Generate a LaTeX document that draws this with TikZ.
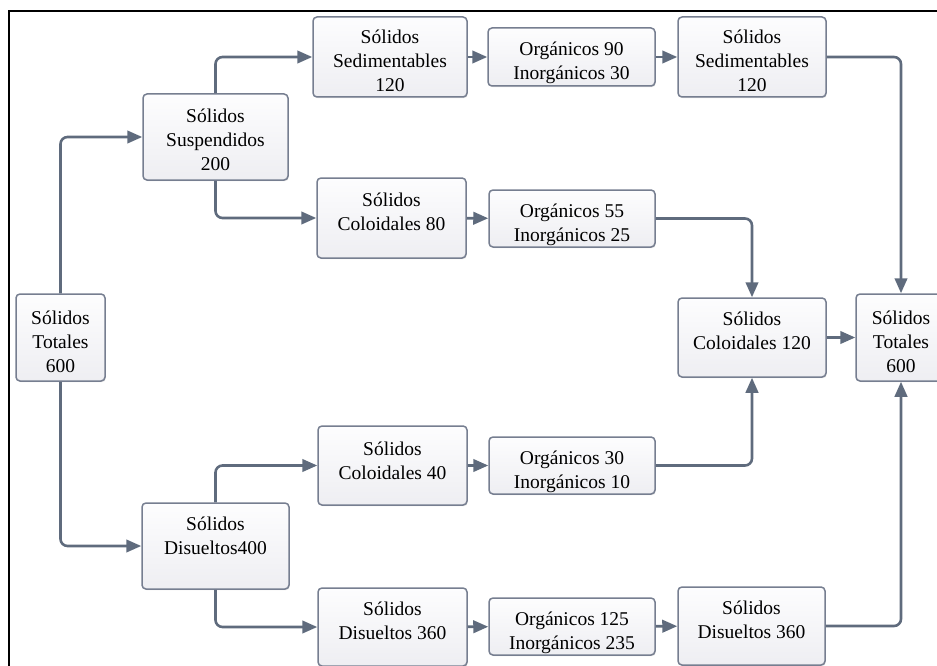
\documentclass[tikz,border=0pt]{standalone}
\usepackage{fontspec}
\setmainfont{Liberation Serif}
\usetikzlibrary{arrows.meta,shadows}

\definecolor{linkcol}{RGB}{95,107,125}
\definecolor{edgecol}{RGB}{118,126,144}
\definecolor{boxtop}{RGB}{253,253,254}
\definecolor{boxbot}{RGB}{238,238,242}

% multi-line label whose ink is moved vertically by #1 without changing the node size
\newcommand\tx[2]{\raisebox{#1}[\height][\depth]{\begin{tabular}{@{}c@{}}#2\end{tabular}}}

\tikzset{
  box/.style={draw=edgecol, line width=1.5pt, rounded corners=4pt,
    top color=boxtop, bottom color=boxbot, inner sep=0pt, align=center,
    font=\fontsize{19.5}{24}\selectfont,
    drop shadow={shadow xshift=0.8pt, shadow yshift=-1.2pt, opacity=0.25}},
  conn/.style={draw=linkcol, line width=2.6pt, rounded corners=7pt,
    -{Triangle[length=15pt,width=12.5pt]}}
}

\begin{document}
\begin{tikzpicture}[x=1pt, y=-1pt]
\useasboundingbox (0,0) rectangle (937,666);

% outer frame (left and top edges)
\draw[line width=2pt, line join=miter] (8.5,666) -- (8.5,11) -- (937,11);

% source
\node[box, minimum width=89pt, minimum height=87pt] (totL) at (60.5,337.5) {\tx{-6pt}{Sólidos\\Totales\\600}};

% suspended branch
\node[box, minimum width=145pt, minimum height=86pt] (susp) at (215.5,137) {\tx{-5pt}{Sólidos\\Suspendidos\\200}};
\node[box, minimum width=154pt, minimum height=80pt] (sedA) at (390,57) {\tx{-6pt}{Sólidos\\Sedimentables\\120}};
\node[box, minimum width=167pt, minimum height=58pt] (org90) at (571.5,57) {\tx{-6pt}{Orgánicos 90\\Inorgánicos 30}};
\node[box, minimum width=148pt, minimum height=80pt] (sedB) at (752,57) {\tx{-6pt}{Sólidos\\Sedimentables\\120}};
\node[box, minimum width=149pt, minimum height=80pt] (col80) at (391.5,218) {\tx{4pt}{Sólidos\\Coloidales 80}};
\node[box, minimum width=166pt, minimum height=57pt] (org55) at (572,218.5) {\tx{-6pt}{Orgánicos 55\\Inorgánicos 25}};

% merged colloids and total
\node[box, minimum width=148pt, minimum height=79pt] (col120) at (752,337.5) {\tx{5pt}{Sólidos\\Coloidales 120}};
\node[box, minimum width=90pt, minimum height=87pt] (totR) at (901,337.5) {\tx{-6pt}{Sólidos\\Totales\\600}};

% dissolved branch
\node[box, minimum width=147pt, minimum height=86pt] (dis400) at (215.5,546) {\tx{8pt}{Sólidos\\Disueltos400}};
\node[box, minimum width=149pt, minimum height=79pt] (col40) at (392.5,465.5) {\tx{3pt}{Sólidos\\Coloidales 40}};
\node[box, minimum width=166pt, minimum height=57pt] (org30) at (572,465.5) {\tx{-6pt}{Orgánicos 30\\Inorgánicos 10}};
\node[box, minimum width=149pt, minimum height=78pt] (disA) at (392.5,627) {\tx{4.5pt}{Sólidos\\Disueltos 360}};
\node[box, minimum width=166pt, minimum height=57pt] (org125) at (572,626.5) {\tx{-6pt}{Orgánicos 125\\Inorgánicos 235}};
\node[box, minimum width=147pt, minimum height=78pt] (disB) at (751.5,626) {\tx{4pt}{Sólidos\\Disueltos 360}};

% connectors
\draw[conn] (totL.north) |- (susp.west);
\draw[conn] (totL.south) |- (dis400.west);

\draw[conn] (susp.north) |- (sedA.west);
\draw[conn] (susp.south) |- (col80.west);
\draw[conn] (sedA) -- (org90);
\draw[conn] (org90) -- (sedB);
\draw[conn] (sedB.east) -| (totR.north);
\draw[conn] (col80) -- (org55);
\draw[conn] (org55.east) -| (col120.north);

\draw[conn] (col120) -- (totR);

\draw[conn] (dis400.north) |- (col40.west);
\draw[conn] (dis400.south) |- (disA.west);
\draw[conn] (col40) -- (org30);
\draw[conn] (org30.east) -| (col120.south);
\draw[conn] (disA) -- (org125);
\draw[conn] (org125) -- (disB);
\draw[conn] (disB.east) -| (totR.south);
\end{tikzpicture}
\end{document}
